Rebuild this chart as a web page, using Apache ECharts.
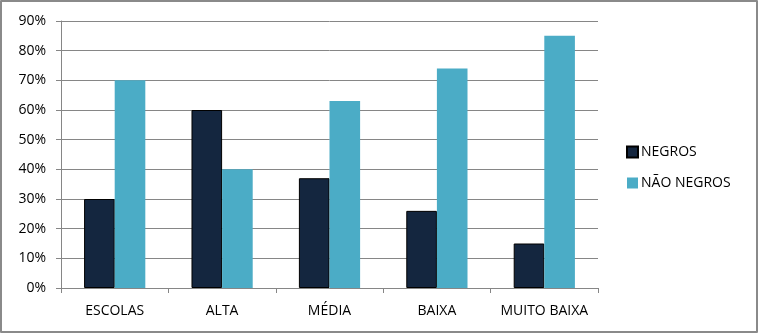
<!DOCTYPE html>
<html>
<head>
<meta charset="utf-8">
<script src="https://cdn.jsdelivr.net/npm/echarts@6/dist/echarts.min.js"></script>
<style>
  html, body { margin: 0; padding: 0; background: #fff; }
  #chart { width: 754px; height: 329px; border: 2px solid #8a8a8a; border-radius: 1px; }
</style>
</head>
<body>
<div id="chart"></div>
<script>
// dados
const categorias = ['ESCOLAS', 'ALTA', 'MÉDIA', 'BAIXA', 'MUITO BAIXA']
const negros = [30, 60, 37, 26, 15]
const naoNegros = [70, 40, 63, 74, 85]

const chart = echarts.init(document.getElementById('chart'))
const fonte = 'Open Sans, Noto Sans, sans-serif'

chart.setOption({
  animation: false,
  grid: {
    left: 59,
    right: 158,
    top: 19,
    bottom: 43,
  },
  legend: {
    orient: 'vertical',
    left: 619,
    top: 138,
    itemWidth: 11,
    itemHeight: 11,
    itemGap: 17,
    icon: 'rect',
    textStyle: {
      fontFamily: fonte,
      fontSize: 14,
      color: '#000',
      padding: [0, 0, 0, -2],
    },
    data: ['NEGROS', 'NÃO NEGROS'],
  },
  xAxis: {
    type: 'category',
    data: categorias,
    axisLine: { lineStyle: { color: '#868686', width: 1 } },
    axisTick: { show: true, length: 5, lineStyle: { color: '#868686' } },
    axisLabel: {
      interval: 0,
      fontFamily: fonte,
      fontSize: 14,
      color: '#000',
      margin: 16,
    },
  },
  yAxis: {
    type: 'value',
    min: 0,
    max: 90,
    interval: 10,
    axisLine: { show: true, lineStyle: { color: '#868686', width: 1 } },
    axisTick: { show: true, length: 5, inside: false, lineStyle: { color: '#868686' } },
    splitLine: { lineStyle: { color: '#868686', width: 1 } },
    axisLabel: {
      fontFamily: fonte,
      fontSize: 14,
      color: '#000',
      margin: 15,
      formatter: '{value}%',
    },
  },
  series: [
    {
      name: 'NEGROS',
      type: 'bar',
      data: negros,
      barGap: '0%',
      barCategoryGap: '43%',
      itemStyle: {
        color: '#14263f',
        borderColor: '#000',
        borderWidth: 1,
      },
    },
    {
      name: 'NÃO NEGROS',
      type: 'bar',
      data: naoNegros,
      barGap: '0%',
      barCategoryGap: '43%',
      itemStyle: {
        color: '#4bacc6',
      },
    },
  ],
})
</script>
</body>
</html>
